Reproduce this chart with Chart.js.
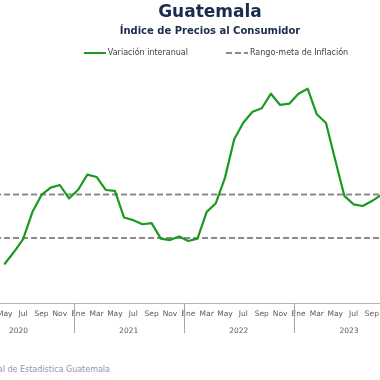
<!DOCTYPE html>
<html lang="es">
<head>
<meta charset="utf-8">
<title>Guatemala - Índice de Precios al Consumidor</title>
<script src="https://cdn.jsdelivr.net/npm/chart.js@4.4.1/dist/chart.umd.min.js"></script>
<style>
    html, body { margin: 0; padding: 0; background: #fff; overflow: hidden; }
    body { width: 380px; height: 380px; position: relative; }
    #grafica { position: absolute; left: -46px; top: 0; width: 512px; height: 344px; }
    #fuente {
        position: absolute; right: 270px; top: 365px;
        font: 8px "DejaVu Sans", sans-serif; line-height: 10px;
        color: #9593b8; white-space: nowrap;
    }
</style>
</head>
<body>
<div id="grafica"><canvas id="ipc"></canvas></div>
<div id="fuente">Fuente: Instituto Nacional de Estadística Guatemala</div>
<script>
// Datos (variación interanual del IPC, %)
const meses = ['Ene', 'Feb', 'Mar', 'Abr', 'May', 'Jun', 'Jul', 'Ago', 'Sep', 'Oct', 'Nov', 'Dic'];
const anios = ['2020', '2021', '2022', '2023'];

const variacion2020 = [null, null, null, null, 1.81, 2.35, 2.94, 4.18, 4.98, 5.32, 5.44, 4.82];
const variacion2021 = [5.22, 5.92, 5.81, 5.21, 5.17, 3.94, 3.82, 3.63, 3.68, 2.97, 2.90, 3.07];
const variacion2022 = [2.86, 2.97, 4.20, 4.60, 5.78, 7.55, 8.32, 8.82, 8.98, 9.65, 9.13, 9.19];
const variacion2023 = [9.65, 9.88, 8.70, 8.30, 6.60, 4.94, 4.55, 4.47, 4.70, 4.97, null, null];

// Rango-meta de inflación: 4% +/- 1 punto
const rangoMeta = [3, 5];

const FUENTE = '"DejaVu Sans", sans-serif';
const AZUL = '#1b2b4d';
const VERDE = '#1a9a1f';
const GRIS = '#8a8a8a';

const etiquetas = anios.flatMap(a => meses.map(m => m + ' ' + a));
const variacion = [...variacion2020, ...variacion2021, ...variacion2022, ...variacion2023];
const primero = etiquetas[0];
const ultimo = etiquetas[etiquetas.length - 1];

// Lineas verticales entre años, debajo del eje
const separadores = {
    id: 'separadores',
    afterDraw(chart) {
        const x = chart.scales.x;
        const { ctx, chartArea } = chart;
        ctx.save();
        ctx.strokeStyle = '#a6a6a6';
        ctx.lineWidth = 1;
        for (let k = 12; k < etiquetas.length; k += 12) {
            const px = Math.round((x.getPixelForValue(k - 1) + x.getPixelForValue(k)) / 2) + 0.5;
            ctx.beginPath();
            ctx.moveTo(px, chartArea.bottom);
            ctx.lineTo(px, chartArea.bottom + 30);
            ctx.stroke();
        }
        ctx.restore();
    }
};

// Leyenda en una fila, con muestra de linea
const leyenda = {
    id: 'leyenda',
    afterDraw(chart) {
        const ctx = chart.ctx;
        const items = chart.data.datasets.filter(ds => ds.enLeyenda);
        const muestra = 22, hueco = 2, espacio = 38, y = 53;
        ctx.save();
        ctx.font = '8px ' + FUENTE;
        ctx.textBaseline = 'middle';
        const anchos = items.map(ds => ctx.measureText(ds.label).width);
        const total = anchos.reduce((s, w) => s + muestra + hueco + w, 0) + espacio * (items.length - 1);
        let x = chart.width / 2 - total / 2 + 6;
        items.forEach((ds, i) => {
            ctx.strokeStyle = ds.borderColor;
            ctx.lineWidth = Math.min(ds.borderWidth, 2);
            ctx.setLineDash(ds.borderDash || []);
            ctx.beginPath();
            ctx.moveTo(x, y);
            ctx.lineTo(x + muestra, y);
            ctx.stroke();
            ctx.setLineDash([]);
            ctx.fillStyle = '#404040';
            ctx.fillText(ds.label, x + muestra + hueco, y);
            x += muestra + hueco + anchos[i] + espacio;
        });
        ctx.restore();
    }
};

new Chart(document.getElementById('ipc'), {
    type: 'line',
    data: {
        labels: etiquetas,
        datasets: [
            {
                label: 'Variación interanual',
                data: variacion,
                borderColor: VERDE,
                borderWidth: 2.2,
                borderJoinStyle: 'round',
                borderCapStyle: 'round',
                pointRadius: 0,
                enLeyenda: true
            },
            {
                label: 'Rango-meta de Inflación',
                data: [{ x: primero, y: rangoMeta[1] }, { x: ultimo, y: rangoMeta[1] }],
                borderColor: GRIS,
                borderWidth: 2,
                borderDash: [6, 3],
                pointRadius: 0,
                enLeyenda: true
            },
            {
                label: 'Rango-meta de Inflación',
                data: [{ x: primero, y: rangoMeta[0] }, { x: ultimo, y: rangoMeta[0] }],
                borderColor: GRIS,
                borderWidth: 2,
                borderDash: [6, 3],
                pointRadius: 0
            }
        ]
    },
    options: {
        responsive: true,
        maintainAspectRatio: false,
        animation: false,
        layout: { padding: 0 },
        plugins: {
            title: {
                display: true,
                text: 'Guatemala',
                color: AZUL,
                font: { family: FUENTE, size: 17, weight: 'bold' },
                padding: { top: 2, bottom: 0 }
            },
            subtitle: {
                display: true,
                text: 'Índice de Precios al Consumidor',
                color: AZUL,
                font: { family: FUENTE, size: 10, weight: 'bold' },
                padding: { top: 3, bottom: 27 }
            },
            legend: { display: false },
            tooltip: { enabled: false }
        },
        scales: {
            x: {
                type: 'category',
                offset: true,
                weight: 0,
                grid: { display: false, drawTicks: false },
                border: { display: true, color: '#b4b4b4', width: 1 },
                ticks: {
                    autoSkip: false,
                    maxRotation: 0,
                    padding: 7,
                    color: '#595959',
                    font: { family: FUENTE, size: 7.5 },
                    callback: function (val, idx) {
                        return idx % 2 === 0 ? this.getLabelForValue(val).split(' ')[0] : '';
                    }
                },
                afterFit: s => { s.height = 23; }
            },
            anio: {
                type: 'category',
                labels: anios,
                position: 'bottom',
                offset: true,
                weight: 1,
                grid: { display: false, drawTicks: false },
                border: { display: false },
                ticks: {
                    padding: 1,
                    color: '#595959',
                    font: { family: FUENTE, size: 7.5 }
                },
                afterFit: s => { s.height = 18; }
            },
            y: {
                position: 'right',
                min: 0,
                max: 11,
                grid: { display: false },
                border: { display: false },
                ticks: { display: false },
                afterFit: s => { s.width = 62; }
            }
        }
    },
    plugins: [separadores, leyenda]
});
</script>
</body>
</html>
